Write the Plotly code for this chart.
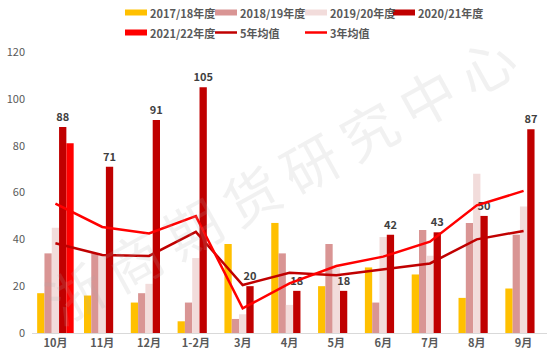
import plotly.graph_objects as go

months = ["10月", "11月", "12月", "1-2月", "3月", "4月", "5月", "6月", "7月", "8月", "9月"]
s2017 = [17, 16, 13, 5, 38, 47, 20, 28, 25, 15, 19]
s2018 = [34, 34, 17, 13, 6, 34, 38, 13, 44, 47, 42]
s2019 = [45, 33, 21, 32, 8, 12, 28, 41, 33, 68, 54]
s2020 = [88, 71, 91, 105, 20, 18, 18, 42, 43, 50, 87]
s2021 = [81, None, None, None, None, None, None, None, None, None, None]
avg5 = [38.3, 33.3, 32.9, 43.2, 20.5, 25.7, 24.7, 27.2, 29.7, 40, 43.6]
avg3 = [55.3, 45.3, 42.5, 49.9, 10.5, 21.2, 28.6, 32.6, 39, 54.5, 60.7]

bar_names = ["2017/18年度", "2018/19年度", "2019/20年度", "2020/21年度", "2021/22年度"]
bar_colors = ["#FFC000", "#D99594", "#F2DCDB", "#C00000", "#FF0000"]
line_names = ["5年均值", "3年均值"]
line_colors = ["#C00000", "#FF0000"]
watermark = "浙商期货研究中心"

FONT = "Noto Sans CJK SC"
W, H = 550, 360
ML, MR, MT, MB = 32, 3, 52, 27
PW, PH = W - ML - MR, H - MT - MB


def px_x(px):
    return (px - ML) / PW


def px_y(py):
    return (H - MB - py) / PH


fig = go.Figure()

fig.add_annotation(text="\u2009".join(watermark), xref="paper", yref="paper", x=0.48, y=0.555,
                   showarrow=False, textangle=-29,
                   font=dict(family=FONT, size=56, color="rgba(170,170,170,0.17)"))

for name, vals, col in zip(bar_names, [s2017, s2018, s2019, s2020, s2021], bar_colors):
    kw = {}
    if name == "2020/21年度":
        kw = dict(text=[str(v) for v in vals], textposition="outside", constraintext="none",
                  textfont=dict(family=FONT, size=11, color="#404040", weight="bold"),
                  cliponaxis=False)
    fig.add_trace(go.Bar(x=months, y=vals, name=name, marker_color=col,
                         marker_line_width=0, showlegend=False, **kw))

for name, vals, col in zip(line_names, [avg5, avg3], line_colors):
    fig.add_trace(go.Scatter(x=months, y=vals, name=name, mode="lines",
                             line=dict(color=col, width=2.5),
                             showlegend=False))

# manual legend (two rows, four columns)
legend_items = [(n, c, "bar") for n, c in zip(bar_names, bar_colors)] + \
               [(n, c, "line") for n, c in zip(line_names, line_colors)]
col_x = [125, 215, 305, 393]
row_y = [12.5, 32.5]
for i, (name, col, kind) in enumerate(legend_items):
    sx = col_x[i % 4]
    sy = row_y[i // 4]
    if kind == "bar":
        fig.add_shape(type="rect", xref="paper", yref="paper",
                      x0=px_x(sx), x1=px_x(sx + 22), y0=px_y(sy + 3), y1=px_y(sy - 3),
                      fillcolor=col, line_width=0)
    else:
        fig.add_shape(type="line", xref="paper", yref="paper",
                      x0=px_x(sx), x1=px_x(sx + 22), y0=px_y(sy), y1=px_y(sy),
                      line=dict(color=col, width=2.5))
    fig.add_annotation(text=name, xref="paper", yref="paper", x=px_x(sx + 23), y=px_y(sy),
                       xanchor="left", yanchor="middle", showarrow=False,
                       font=dict(family=FONT, size=11, color="#595959", weight="bold"))

fig.update_layout(
    width=W, height=H,
    margin=dict(l=ML, r=MR, t=MT, b=MB),
    paper_bgcolor="white", plot_bgcolor="white",
    barmode="group", bargap=0.22, bargroupgap=0,
    showlegend=False,
    font=dict(family=FONT, size=11, color="#595959"),
    xaxis=dict(showline=True, linecolor="#D9D9D9", linewidth=1, ticks="", automargin=False,
               tickfont=dict(family=FONT, size=11, color="#595959", weight="bold")),
    yaxis=dict(range=[0, 120], dtick=20, showgrid=False, zeroline=False, ticks="",
               automargin=False, ticklabelstandoff=6,
               tickfont=dict(family=FONT, size=11, color="#595959")),
)

fig.write_html("out.html", config={"displayModeBar": False},
               post_script="document.body.style.margin='0';")
